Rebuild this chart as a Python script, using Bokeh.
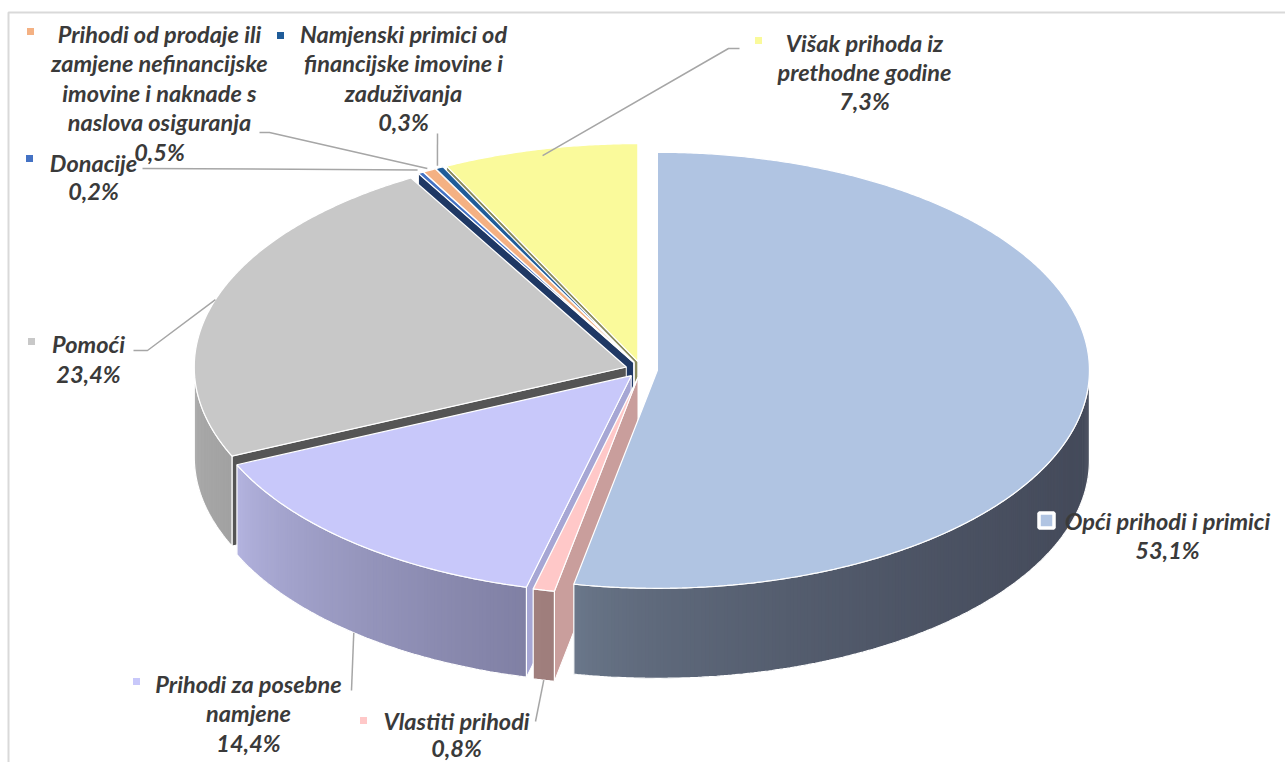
import math
from bokeh.plotting import figure
from bokeh.models import Range1d
from bokeh.core.properties import value
from bokeh.embed import file_html
from bokeh.resources import INLINE

# ---------------- data ----------------
categories = [
    "Opći prihodi i primici",
    "Vlastiti prihodi",
    "Prihodi za posebne namjene",
    "Pomoći",
    "Donacije",
    "Prihodi od prodaje ili zamjene nefinancijske imovine i naknade s naslova osiguranja",
    "Namjenski primici od financijske imovine i zaduživanja",
    "Višak prihoda iz prethodne godine",
]
label_lines = [
    ["Opći prihodi i primici"],
    ["Vlastiti prihodi"],
    ["Prihodi za posebne", "namjene"],
    ["Pomoći"],
    ["Donacije"],
    ["Prihodi od prodaje ili", "zamjene nefinancijske", "imovine i naknade s", "naslova osiguranja"],
    ["Namjenski primici od", "financijske imovine i", "zaduživanja"],
    ["Višak prihoda iz", "prethodne godine"],
]
shares = [53.1, 0.8, 14.4, 23.4, 0.2, 0.5, 0.3, 7.3]

# ---------------- styles ----------------
top_colors = ["#b0c4e2", "#ffc8c8", "#c8c8fa", "#c8c8c8", "#4472c4", "#f4b183", "#1f5c99", "#fafa9b"]
side_left = [(108, 121, 140), (161, 128, 126), (182, 182, 226), (170, 170, 170),
             (50, 85, 150), (190, 135, 95), (25, 65, 110), (190, 190, 110)]
side_right = [(68, 74, 90), (158, 125, 123), (128, 128, 164), (162, 162, 162),
              (50, 85, 150), (190, 135, 95), (25, 65, 110), (190, 190, 110)]
cut_colors = ["#5a6578", "#c99e9c", "#a6a6d4", "#555555", "#1f3864", "#b57e55", "#183a5e", "#8a8a5c"]

CX, CY, RX, RY, DEPTH, EXPLODE = 641, 369, 432, 218, 90, 16
W, H = 1285, 762
TEXT_COLOR = "#3a3a3a"
LEADER_COLOR = "#a6a6a6"
FONT_SIZE = "23.5px"

# label layout: (center x, first line y, line spacing, marker x, marker y)
label_pos = [
    (1167, 520, 29.0, 1046, 520),
    (456, 720, 27.0, 363, 720),
    (248, 683, 29.5, 136, 681),
    (88, 343, 30.0, 31, 341),
    (93, 162, 28.5, 29, 158),
    (159, 33, 29.5, 30, 31),
    (403, 33, 29.5, 280, 35),
    (864, 42, 29.0, 758, 40),
]
leader_frac = [None, 1.0, 1.0, 1.0, 1.015, 1.01, 1.01, 0.97]
leader_dz = [0, DEPTH, DEPTH, 0, 0, 0, 0, 0]
leader_path = [None, [(535, 721)], [(351, 690)], [(147, 350), (133, 350)], [(142, 168)],
               [(269, 132), (259, 132)], [(437, 133)], [(728, 48), (739, 48)]]

# ---------------- geometry ----------------
N = len(shares)
total = sum(shares)
starts, ends = [], []
acc = 0.0
for v in shares:
    starts.append(360.0 * acc / total)
    acc += v
    ends.append(360.0 * acc / total)
mids = [(a + b) / 2 for a, b in zip(starts, ends)]


def offset(i):
    m = math.radians(mids[i])
    return EXPLODE * math.sin(m), -EXPLODE * math.cos(m) * RY / RX


def P(i, a_deg, f=1.0, dz=0.0):
    ox, oy = offset(i)
    a = math.radians(a_deg)
    return CX + ox + f * RX * math.sin(a), CY + oy - f * RY * math.cos(a) + dz


def arc(i, a1, a2, dz=0.0, step=0.5):
    n = max(2, int(abs(a2 - a1) / step) + 1)
    return [P(i, a1 + (a2 - a1) * k / (n - 1), 1.0, dz) for k in range(n)]


def hexc(c):
    return "#%02x%02x%02x" % tuple(int(round(v)) for v in c)


p = figure(width=W, height=H, x_range=Range1d(0, W), y_range=Range1d(H, 0),
           output_backend="svg", toolbar_location=None, min_border=0)
p.axis.visible = False
p.grid.visible = False
p.outline_line_color = None
p.background_fill_color = "white"
p.border_fill_color = "white"

# frame
p.line(x=[8, 8, W], y=[H, 12, 12], line_color="#d9d9d9", line_width=2)

# ---- radial cut faces (visible ones), back to front ----
faces = []
for i in range(N):
    if math.sin(math.radians(starts[i])) < -1e-9:
        faces.append((-starts[i], i, starts[i]))
    if math.sin(math.radians(ends[i])) > 1e-9:
        faces.append((-ends[i], i, ends[i]))
faces.sort()
cx_, cy_, cc_ = [], [], []
for _, i, a in faces:
    ax, ay = P(i, 0, 0.0)
    rx_, ry_ = P(i, a)
    cx_.append([ax, rx_, rx_, ax])
    cy_.append([ay, ry_, ry_ + DEPTH, ay + DEPTH])
    cc_.append(cut_colors[i])
p.patches(xs=cx_, ys=cy_, fill_color=cc_, line_color="white", line_width=1)

# ---- outer sides (front half) ----
order = sorted(range(N), key=lambda i: -abs(mids[i] - 180))
for i in order:
    a1 = max(starts[i], 90.0)
    a2 = min(ends[i], 270.0)
    if a2 <= a1:
        continue
    top = arc(i, a1, a2)
    bot = arc(i, a1, a2, DEPTH)
    xs_all = [q[0] for q in top]
    xmin, xmax = min(xs_all), max(xs_all)
    qx, qy, qc = [], [], []
    n = len(top)
    for k in range(n - 1):
        k2 = min(k + 2, n - 1)  # overlap next strip to hide seams
        qx.append([top[k][0], top[k2][0], bot[k2][0], bot[k][0]])
        qy.append([top[k][1], top[k2][1], bot[k2][1], bot[k][1]])
        xm = (top[k][0] + top[k + 1][0]) / 2
        t = 0 if xmax - xmin < 1e-6 else (xm - xmin) / (xmax - xmin)
        t = t ** 0.6
        c = [side_left[i][j] + (side_right[i][j] - side_left[i][j]) * t for j in range(3)]
        qc.append(hexc(c))
    p.patches(xs=qx, ys=qy, fill_color=qc, line_color=None)
    outline = top + bot[::-1]
    p.patch(x=[q[0] for q in outline] + [outline[0][0]], y=[q[1] for q in outline] + [outline[0][1]],
            fill_color=None, line_color="white", line_width=1.2)

# ---- top faces ----
tx, ty = [], []
for i in range(N):
    ax, ay = P(i, 0, 0.0)
    pts = arc(i, starts[i], ends[i], step=0.4)
    tx.append([ax] + [q[0] for q in pts])
    ty.append([ay] + [q[1] for q in pts])
p.patches(xs=tx, ys=ty, fill_color=top_colors, line_color="white", line_width=1.2)

# ---- leader lines ----
for i in range(N):
    if leader_path[i] is None:
        continue
    sx, sy = P(i, mids[i], leader_frac[i], leader_dz[i])
    xs = [sx] + [q[0] for q in leader_path[i]]
    ys = [sy] + [q[1] for q in leader_path[i]]
    p.line(x=xs, y=ys, line_color=LEADER_COLOR, line_width=1.5)

# ---- legend-key markers ----
mk = [i for i in range(N) if i != 0]
p.scatter(x=[label_pos[i][3] for i in mk], y=[label_pos[i][4] for i in mk], marker="square",
          size=7, fill_color=[top_colors[i] for i in mk], line_color=None)
p.scatter(x=[label_pos[0][3]], y=[label_pos[0][4]], marker="square", size=15,
          fill_color=top_colors[0], line_color="white", line_width=3.5)

# ---- labels ----
lx, ly, lt = [], [], []
for i in range(N):
    cxl, y0, sp, _, _ = label_pos[i]
    lines = label_lines[i] + [("%.1f%%" % shares[i]).replace(".", ",")]
    for k, s in enumerate(lines):
        lx.append(cxl)
        ly.append(y0 + k * sp)
        lt.append(s)
p.text(x=lx, y=ly, text=lt, text_font=value("Lato"), text_font_size=FONT_SIZE,
       text_font_style="bold italic", text_color=TEXT_COLOR, text_align="center",
       text_baseline="middle")

open("out.html", "w").write(file_html(p, INLINE))
